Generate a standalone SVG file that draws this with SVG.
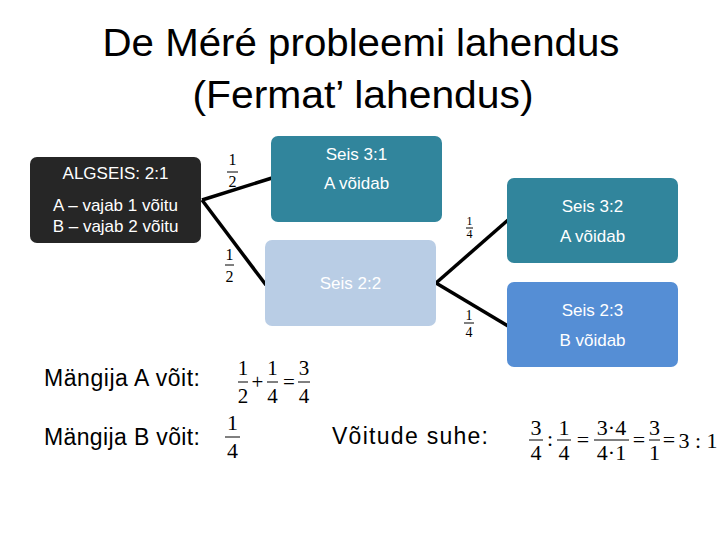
<svg xmlns="http://www.w3.org/2000/svg" width="720" height="540" viewBox="0 0 720 540">
<style>
.title{font-family:"Liberation Sans",Arial,sans-serif;font-size:38px;fill:#000;text-anchor:middle}
.bt{font-family:"Liberation Sans",Arial,sans-serif;font-size:17px;fill:#fff;text-anchor:middle}
.lbl{font-family:"Liberation Sans",Arial,sans-serif;font-size:23px;fill:#000}
.m{font-family:"Liberation Serif","Times New Roman",serif;fill:#000;text-anchor:middle}
.bar{stroke:#000;stroke-width:1}
.conn{stroke:#000;stroke-width:3.5;fill:none;stroke-linecap:butt}
</style>
<rect width="720" height="540" fill="#fff"/>
<g id="title">
<text class="title" x="361" y="56" textLength="517" lengthAdjust="spacingAndGlyphs">De Méré probleemi lahendus</text>
<text class="title" x="363" y="108" textLength="341" lengthAdjust="spacingAndGlyphs">(Fermat’ lahendus)</text>
</g>
<g id="connectors">
<line class="conn" x1="202" y1="200" x2="272" y2="178"/>
<line class="conn" x1="202" y1="200" x2="266" y2="285"/>
<line class="conn" x1="436" y1="283" x2="508" y2="220"/>
<line class="conn" x1="436" y1="283" x2="508" y2="326"/>
</g>
<g id="n0">
<rect x="30" y="157" width="171" height="86" rx="7" fill="#262626"/>
<text class="bt" x="115.5" y="179">ALGSEIS: 2:1</text>
<text class="bt" x="115.5" y="211">A – vajab 1 võitu</text>
<text class="bt" x="115.5" y="232">B – vajab 2 võitu</text>
</g>
<g id="n1">
<rect x="271" y="136" width="171" height="86" rx="7" fill="#31859C"/>
<text class="bt" x="356.5" y="160">Seis 3:1</text>
<text class="bt" x="356.5" y="189">A võidab</text>
</g>
<g id="n2">
<rect x="265" y="240" width="171" height="86" rx="7" fill="#B9CDE5"/>
<text class="bt" x="350.5" y="289">Seis 2:2</text>
</g>
<g id="n3">
<rect x="507" y="178" width="171" height="85" rx="7" fill="#31859C"/>
<text class="bt" x="592.5" y="212">Seis 3:2</text>
<text class="bt" x="592.5" y="242">A võidab</text>
</g>
<g id="n4">
<rect x="507" y="282" width="171" height="85" rx="7" fill="#558ED5"/>
<text class="bt" x="592.5" y="316">Seis 2:3</text>
<text class="bt" x="592.5" y="346">B võidab</text>
</g>
<g id="edge-labels">
<text class="m" x="232.5" y="165" font-size="16">1</text>
<line class="bar" x1="227" y1="172" x2="238" y2="172"/>
<text class="m" x="232.5" y="187" font-size="16">2</text>
<text class="m" x="229.5" y="260" font-size="16">1</text>
<line class="bar" x1="225" y1="265" x2="234" y2="265"/>
<text class="m" x="229.5" y="282" font-size="16">2</text>
<text class="m" x="469.5" y="225" font-size="12">1</text>
<line class="bar" x1="466" y1="228" x2="473" y2="228"/>
<text class="m" x="469.5" y="238" font-size="12">4</text>
<text class="m" x="469" y="320" font-size="14">1</text>
<line class="bar" x1="464" y1="323" x2="474" y2="323"/>
<text class="m" x="469" y="337" font-size="14">4</text>
</g>
<g id="labels">
<text class="lbl" x="44" y="386" textLength="156" lengthAdjust="spacing">Mängija A võit:</text>
<text class="lbl" x="44" y="445" textLength="156" lengthAdjust="spacing">Mängija B võit:</text>
<text class="lbl" x="332" y="444" textLength="156" lengthAdjust="spacing">Võitude suhe:</text>
</g>
<g id="eq-a">
<text class="m" x="243" y="375" font-size="21">1</text>
<line class="bar" x1="238" y1="382" x2="248" y2="382"/>
<text class="m" x="243" y="403" font-size="21">2</text>
<text class="m" x="257.5" y="389" font-size="21">+</text>
<text class="m" x="272.5" y="375" font-size="21">1</text>
<line class="bar" x1="267" y1="382" x2="278" y2="382"/>
<text class="m" x="272.5" y="403" font-size="21">4</text>
<text class="m" x="289" y="389" font-size="21">=</text>
<text class="m" x="304" y="375" font-size="21">3</text>
<line class="bar" x1="298" y1="382" x2="310" y2="382"/>
<text class="m" x="304" y="403" font-size="21">4</text>
</g>
<g id="eq-b">
<text class="m" x="232.5" y="430" font-size="22">1</text>
<line class="bar" x1="225" y1="437" x2="240" y2="437"/>
<text class="m" x="232.5" y="458" font-size="22">4</text>
</g>
<g id="eq-ratio">
<text class="m" x="536" y="435" font-size="22">3</text>
<line class="bar" x1="529" y1="440" x2="543" y2="440"/>
<text class="m" x="536" y="460" font-size="22">4</text>
<text class="m" x="550" y="446" font-size="22">:</text>
<text class="m" x="564" y="435" font-size="22">1</text>
<line class="bar" x1="557" y1="440" x2="571" y2="440"/>
<text class="m" x="564" y="460" font-size="22">4</text>
<text class="m" x="583" y="447" font-size="22">=</text>
<text class="m" x="611.5" y="435" font-size="22">3·4</text>
<line class="bar" x1="594" y1="440" x2="629" y2="440"/>
<text class="m" x="611.5" y="460" font-size="22">4·1</text>
<text class="m" x="639" y="447" font-size="22">=</text>
<text class="m" x="654.5" y="435" font-size="22">3</text>
<line class="bar" x1="649" y1="440" x2="660" y2="440"/>
<text class="m" x="654.5" y="460" font-size="22">1</text>
<text class="m" x="669" y="447" font-size="22">=</text>
<text class="m" x="698" y="448" font-size="22">3 : 1</text>
</g>
</svg>
